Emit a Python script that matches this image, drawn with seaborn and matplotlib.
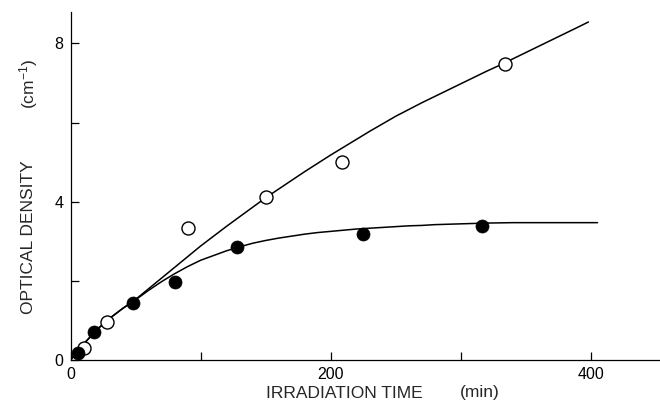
import matplotlib
matplotlib.use("Agg")
import matplotlib.pyplot as plt
import seaborn as sns

# Measured optical density vs. irradiation time
open_time = [10, 28, 90, 150, 209, 334]
open_od = [0.31, 0.95, 3.34, 4.11, 5.01, 7.48]
filled_time = [5.5, 18, 48, 80, 128, 225, 316]
filled_od = [0.17, 0.70, 1.43, 1.98, 2.85, 3.18, 3.38]

# Smooth trend curves drawn through each series
open_curve_time = [0, 10, 20, 30, 40, 50, 60, 70, 80, 90, 100, 110, 120, 130, 140,
                   150, 160, 170, 180, 190, 200, 210, 220, 230, 240, 250, 260, 270,
                   280, 290, 300, 310, 320, 330, 340, 350, 360, 370, 380, 390, 398]
open_curve_od = [0, 0.40, 0.76, 1.05, 1.30, 1.53, 1.80, 2.07, 2.34, 2.61, 2.88, 3.13,
                 3.38, 3.62, 3.86, 4.10, 4.32, 4.54, 4.76, 4.97, 5.18, 5.38, 5.58,
                 5.78, 5.97, 6.16, 6.33, 6.50, 6.66, 6.82, 6.98, 7.14, 7.30, 7.45,
                 7.61, 7.77, 7.93, 8.09, 8.25, 8.41, 8.54]
filled_curve_time = [0, 10, 20, 30, 40, 50, 60, 70, 80, 90, 100, 110, 120, 130, 140,
                     150, 160, 170, 180, 190, 200, 210, 220, 230, 240, 250, 260, 270,
                     280, 290, 300, 310, 320, 340, 360, 380, 405]
filled_curve_od = [0, 0.40, 0.76, 1.05, 1.30, 1.52, 1.76, 1.98, 2.18, 2.36, 2.52,
                   2.64, 2.76, 2.86, 2.95, 3.02, 3.08, 3.13, 3.18, 3.22, 3.25, 3.28,
                   3.31, 3.33, 3.35, 3.37, 3.39, 3.40, 3.42, 3.43, 3.44, 3.45, 3.46,
                   3.47, 3.47, 3.47, 3.47]

x_ticks = [0, 100, 200, 300, 400]
x_tick_labels = ["0", "", "200", "", "400"]
y_ticks = [0, 2, 4, 6, 8]
y_tick_labels = ["0", "", "4", "", "8"]

sns.set_style("ticks")
plt.rcParams["font.family"] = ["Liberation Sans", "DejaVu Sans"]
plt.rcParams["mathtext.fontset"] = "custom"
plt.rcParams["mathtext.rm"] = "Liberation Sans"
plt.rcParams["mathtext.it"] = "Liberation Sans"

fig = plt.figure(figsize=(6.6, 4.05), dpi=100)
ax = fig.add_axes([70.5 / 660, 45 / 405, (660 - 70.5) / 660, (360 - 11.7) / 405])

sns.lineplot(x=open_curve_time, y=open_curve_od, sort=False, estimator=None,
             color="black", lw=1.1, ax=ax)
sns.lineplot(x=filled_curve_time, y=filled_curve_od, sort=False, estimator=None,
             color="black", lw=1.1, ax=ax)

sns.scatterplot(x=open_time, y=open_od, marker="o", s=88, facecolor="white",
                edgecolor="black", linewidth=1.0, zorder=5, clip_on=False, ax=ax)
sns.scatterplot(x=filled_time, y=filled_od, marker="o", s=88, color="black",
                edgecolor="black", linewidth=0.5, zorder=6, clip_on=False, ax=ax)

ax.set_xlim(0, 453)
ax.set_ylim(0, 8.8)
ax.set_xticks(x_ticks)
ax.set_xticklabels(x_tick_labels)
ax.set_yticks(y_ticks)
ax.set_yticklabels(y_tick_labels)
ax.tick_params(direction="in", length=5.5, width=0.9, labelsize=11.5, pad=5,
               colors="black")
ax.set_xlabel("")
ax.set_ylabel("")

for side in ["top", "right"]:
    ax.spines[side].set_visible(False)
for side in ["left", "bottom"]:
    ax.spines[side].set_linewidth(0.9)
    ax.spines[side].set_color("black")

fig.text(344 / 660, 1 - 393 / 405, "IRRADIATION TIME", ha="center", va="center",
         fontsize=12.5)
fig.text(480 / 660, 1 - 393 / 405, "(min)", ha="center", va="center", fontsize=12.5)
fig.text(29 / 660, 1 - 237.5 / 405, "OPTICAL DENSITY", ha="center", va="center",
         rotation=90, fontsize=12.5)
fig.text(29 / 660, 1 - 84 / 405, "(cm$^{-1}$)", ha="center", va="center",
         rotation=90, fontsize=12.5)

fig.savefig("out.png", dpi=100)
